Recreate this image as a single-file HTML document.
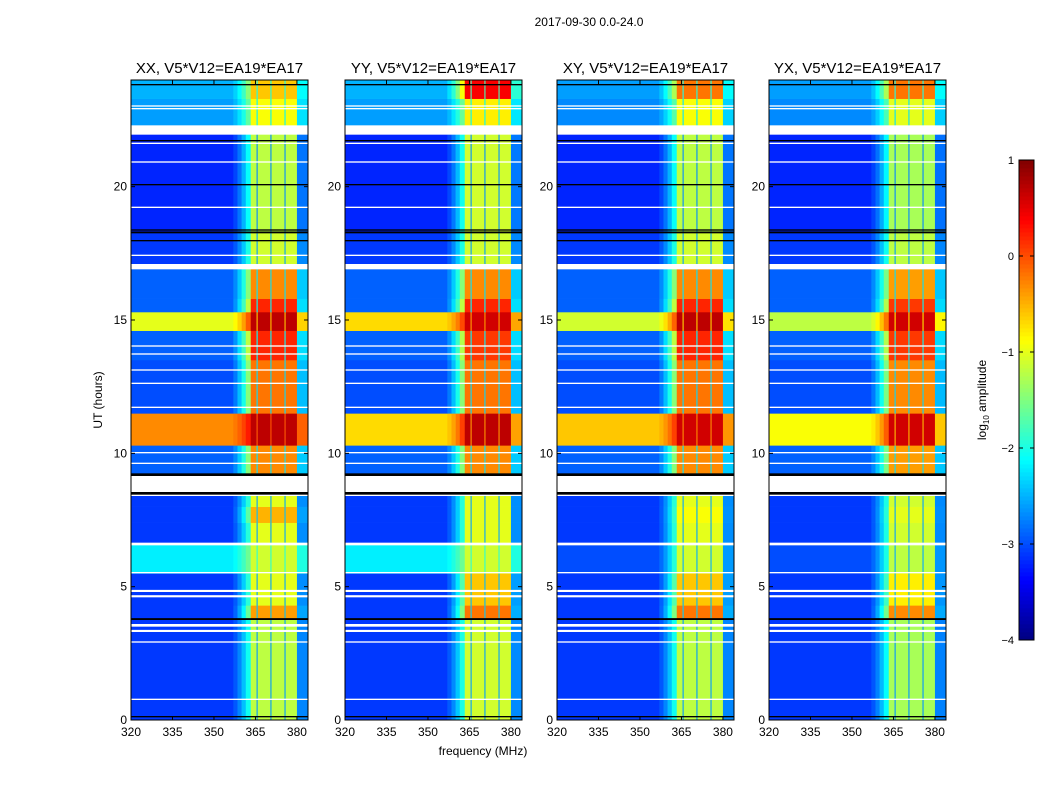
<!DOCTYPE html>
<html><head><meta charset="utf-8"><style>
body{margin:0;background:#fff;font-family:"Liberation Sans",sans-serif}
svg text{font-family:"Liberation Sans",sans-serif}
</style></head><body>
<svg id="fig" width="1050" height="800" viewBox="0 0 1050 800">
<rect width="1050" height="800" fill="#fff"/>
<text x="589" y="26" font-size="12" text-anchor="middle">2017-09-30 0.0-24.0</text>
<g id="panels"></g>
<g id="cbar"></g>
</svg>
<script>
// ---- data ----
const panelTitles = ["XX, V5*V12=EA19*EA17","YY, V5*V12=EA19*EA17","XY, V5*V12=EA19*EA17","YX, V5*V12=EA19*EA17"];
const panelLeft = [131, 345, 557, 769];
const xTicks = [320,335,350,365,380];
const yTicks = [0,5,10,15,20];
const cbTicks = [1,0,-1,-2,-3,-4];
// time segments: start hour, end hour
const segStart = [0, 3.8, 4.3, 5.5, 6.6, 7.4, 8.0, 9.2, 10.3, 11.5, 13.5, 14.6, 15.3, 15.8, 17.0, 18.3, 22.3, 23.3];
const segEnd   = [3.8, 4.3, 5.5, 6.6, 7.4, 8.0, 8.4, 10.3, 11.5, 13.5, 14.6, 15.3, 15.8, 17.0, 18.3, 22.0, 23.3, 24.0];
// background log amplitude per panel per segment
const bgXX = [-3.1,-3.1,-3.1,-2.2,-3.1,-3.1,-3.1,-2.9,-0.3,-3.0,-2.9,-1.0,-2.9,-2.9,-3.1,-3.2,-2.6,-2.5];
const bgYY = [-3.1,-3.1,-3.1,-2.2,-3.1,-3.1,-3.1,-2.9,-0.7,-3.0,-2.9,-0.7,-2.9,-2.9,-3.1,-3.2,-2.6,-2.5];
const bgXY = [-3.1,-3.1,-3.1,-3.0,-3.1,-3.1,-3.1,-2.9,-0.6,-3.0,-2.9,-1.1,-2.9,-2.9,-3.1,-3.2,-2.7,-2.6];
const bgYX = [-3.1,-3.1,-3.1,-3.0,-3.1,-3.1,-3.1,-2.9,-0.9,-3.0,-2.9,-1.2,-2.9,-2.9,-3.1,-3.2,-2.7,-2.6];
// band log amplitude per panel per segment
const bandXX = [-1.2,-0.4,-1.0,-1.1,-1.0,-0.5,-1.0,-0.3,0.7,-0.2,0.2,0.7,0.2,-0.3,-1.1,-1.2,-0.9,-0.6];
const bandYY = [-1.1,-0.2,-0.6,-1.1,-1.0,-1.0,-1.0,-0.3,0.7,-0.2,0.1,0.6,0.2,-0.3,-1.1,-1.1,-0.8,0.4];
const bandXY = [-1.2,-0.2,-0.6,-1.1,-1.0,-0.9,-1.0,-0.3,0.6,-0.2,0.2,0.7,0.2,-0.3,-1.1,-1.2,-0.9,-0.2];
const bandYX = [-1.3,-0.3,-0.8,-1.2,-1.1,-1.0,-1.1,-0.4,0.6,-0.3,0.1,0.6,0.1,-0.4,-1.2,-1.3,-1.0,-0.2];
// frequency bins (MHz) and band weight of each bin
const fEdges = [320,357,358.5,360,361.5,363.3,365.4,365.8,370.4,370.8,375.5,375.9,380,384];
const fWeight = [0,0.08,0.2,0.35,0.55,1,0.25,1,0.25,1,0.25,1,0.2];
// flagged (white) rows: start hour, end hour
const flagStart = [0.75,2.9,3.3,3.5,4.6,4.8,5.5,6.55,8.55,8.85,9.6,10.0,11.7,12.6,13.1,13.7,14.0,16.9,17.4,19.2,20.9,21.6,21.95,22.9,23.0];
const flagEnd   = [0.8,2.95,3.38,3.6,4.68,4.88,5.55,6.65,8.85,8.95,9.65,10.05,11.75,12.65,13.15,13.75,14.05,17.1,17.45,19.25,20.95,21.65,22.3,22.95,23.05];
// dark (black) rows
const darkStart = [0.1,3.75,8.45,9.15,17.95,18.25,18.35,20.05,21.7,23.8];
const darkEnd   = [0.15,3.82,8.55,9.25,18.0,18.32,18.4,20.1,21.75,23.85];

const bgAll = [bgXX,bgYY,bgXY,bgYX];
const bandAll = [bandXX,bandYY,bandXY,bandYX];
const NS = "http://www.w3.org/2000/svg";
const plotW = 177, yTop = 80, yBot = 720;
function xs(f, left){ return left + (f-320)/(384-320)*plotW; }
function ys(h){ return yBot - h/24*(yBot-yTop); }
function jet(v){
  let t = Math.max(0, Math.min(1, (v+4)/5));
  const r = Math.max(0, Math.min(1, 1.5 - Math.abs(4*t-3)));
  const g = Math.max(0, Math.min(1, 1.5 - Math.abs(4*t-2)));
  const b = Math.max(0, Math.min(1, 1.5 - Math.abs(4*t-1)));
  return `rgb(${Math.round(r*255)},${Math.round(g*255)},${Math.round(b*255)})`;
}
function mk(tag, attrs, parent){
  const e = document.createElementNS(NS, tag);
  for (const k in attrs) e.setAttribute(k, attrs[k]);
  parent.appendChild(e); return e;
}
const panels = document.getElementById('panels');
for (let p=0;p<4;p++){
  const L = panelLeft[p];
  const g = mk('g', {}, panels);
  
  
  for (let s=0;s<segStart.length;s++){
    const y0 = ys(segEnd[s]), y1 = ys(segStart[s]);
    for (let c=0;c<fWeight.length;c++){
      const v = bgAll[p][s] + fWeight[c]*(bandAll[p][s]-bgAll[p][s]);
      const x0 = xs(fEdges[c],L), x1 = xs(fEdges[c+1],L);
      const r = mk('rect', {x:x0.toFixed(2), y:y0.toFixed(2), width:(x1-x0+0.3).toFixed(2), height:(y1-y0+0.3).toFixed(2), fill:jet(v)}, g);
      
      
    }
  }
  for (let i=0;i<flagStart.length;i++){
    const r = mk('rect', {x:L, y:ys(flagEnd[i]), width:plotW, height:Math.max(1, ys(flagStart[i])-ys(flagEnd[i])), fill:'#fff'}, g);
    
    
  }
  for (let i=0;i<darkStart.length;i++){
    const r = mk('rect', {x:L, y:ys(darkEnd[i]), width:plotW, height:Math.max(1, ys(darkStart[i])-ys(darkEnd[i])), fill:'#000'}, g);
    
    
  }
  const fr = mk('rect', {x:L, y:yTop, width:plotW, height:yBot-yTop, fill:'none', stroke:'#000', 'stroke-width':1}, g);
  
  
  const tt = mk('text', {x:L+plotW/2, y:73, 'font-size':15, 'text-anchor':'middle'}, g);
  tt.textContent = panelTitles[p];
  
  
  for (const f of xTicks){
    const x = xs(f,L);
    mk('line', {x1:x, x2:x, y1:yBot, y2:yBot-4, stroke:'#000'}, g);
    mk('line', {x1:x, x2:x, y1:yTop, y2:yTop+4, stroke:'#000'}, g);
    const t = mk('text', {x:x, y:736, 'font-size':12, 'text-anchor':'middle'}, g);
    t.textContent = f;
    
    
  }
  for (const h of yTicks){
    const y = ys(h);
    mk('line', {x1:L, x2:L+4, y1:y, y2:y, stroke:'#000'}, g);
    mk('line', {x1:L+plotW, x2:L+plotW-4, y1:y, y2:y, stroke:'#000'}, g);
    const t = mk('text', {x:L-4, y:y+4, 'font-size':12, 'text-anchor':'end'}, g);
    t.textContent = h;
    
    
  }
}
const xl = mk('text', {x:483, y:755, 'font-size':12, 'text-anchor':'middle'}, panels);
xl.textContent = 'frequency (MHz)';


const yl = mk('text', {x:0, y:0, 'font-size':12, 'text-anchor':'middle', transform:'translate(102,400) rotate(-90)'}, panels);
yl.textContent = 'UT (hours)';


// colorbar
const cb = document.getElementById('cbar');
const cbTop = 160, cbBot = 640, cbX = 1019, cbW = 15;
for (let i=0;i<120;i++){
  const v = -4 + (i+0.5)/120*5;
  const y = cbBot - (i+1)/120*(cbBot-cbTop);
  mk('rect', {x:cbX, y:y.toFixed(2), width:cbW, height:((cbBot-cbTop)/120+0.4).toFixed(2), fill:jet(v)}, cb);
}
mk('rect', {x:cbX, y:cbTop, width:cbW, height:cbBot-cbTop, fill:'none', stroke:'#000'}, cb);
for (const v of cbTicks){
  const y = cbBot - (v+4)/5*(cbBot-cbTop);
  mk('line', {x1:cbX, x2:cbX+4, y1:y, y2:y, stroke:'#000'}, cb);
  mk('line', {x1:cbX+cbW, x2:cbX+cbW-4, y1:y, y2:y, stroke:'#000'}, cb);
  const t = mk('text', {x:1014, y:y+4, 'font-size':11, 'text-anchor':'end'}, cb);
  t.textContent = v < 0 ? '\u2212' + (-v) : v;
  
  
}
const cl = mk('text', {x:0, y:0, 'font-size':12, 'text-anchor':'middle', transform:'translate(986,400) rotate(-90)'}, cb);
cl.innerHTML = 'log<tspan font-size="8" dy="3">10</tspan><tspan dy="-3"> amplitude</tspan>';


</script>
</body></html>
